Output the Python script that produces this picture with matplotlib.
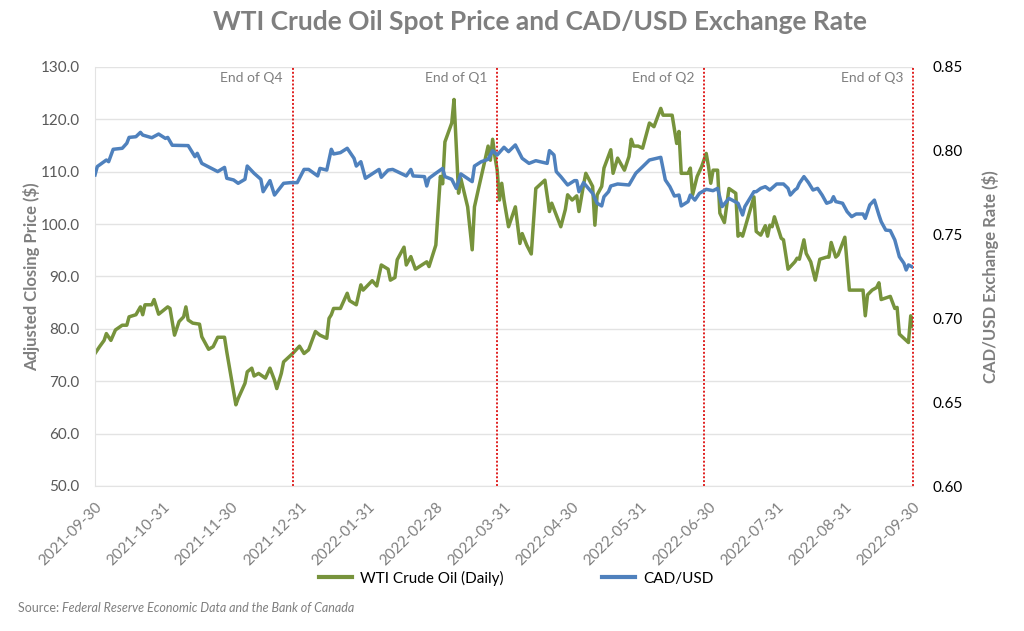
import numpy as np
import pandas as pd
import matplotlib
matplotlib.use('Agg')
import matplotlib.pyplot as plt
import matplotlib.lines as mlines
import matplotlib.dates as mdates

plt.rcParams['font.family'] = ['Lato', 'DejaVu Sans']

# WTI crude oil daily price (USD)
wti_dates = [
    '2021-10-05', '2021-10-07', '2021-10-09', '2021-10-10', '2021-10-12', '2021-10-14', '2021-10-17',
    '2021-10-19', '2021-10-20', '2021-10-23', '2021-10-25', '2021-10-26', '2021-10-27', '2021-10-30',
    '2021-10-31', '2021-11-02', '2021-11-06', '2021-11-07', '2021-11-09', '2021-11-11', '2021-11-13',
    '2021-11-14', '2021-11-15', '2021-11-17', '2021-11-20', '2021-11-21', '2021-11-24', '2021-11-26',
    '2021-11-28', '2021-12-01', '2021-12-02', '2021-12-04', '2021-12-06', '2021-12-07', '2021-12-10',
    '2021-12-11', '2021-12-13', '2021-12-14', '2021-12-16', '2021-12-19', '2021-12-21', '2021-12-23',
    '2021-12-24', '2021-12-26', '2021-12-27', '2021-12-28', '2021-12-31',
    '2022-01-03', '2022-01-05', '2022-01-07', '2022-01-10', '2022-01-12', '2022-01-15', '2022-01-16',
    '2022-01-17', '2022-01-18', '2022-01-21', '2022-01-24', '2022-01-25', '2022-01-28', '2022-01-30',
    '2022-01-31', '2022-02-04', '2022-02-06', '2022-02-08', '2022-02-11', '2022-02-12', '2022-02-14',
    '2022-02-15', '2022-02-18', '2022-02-19', '2022-02-21', '2022-02-23', '2022-02-28', '2022-03-01',
    '2022-03-04', '2022-03-06', '2022-03-07', '2022-03-08', '2022-03-11', '2022-03-12', '2022-03-14',
    '2022-03-15', '2022-03-18', '2022-03-20', '2022-03-21', '2022-03-23', '2022-03-25', '2022-03-27',
    '2022-03-28', '2022-03-29', '2022-03-30', '2022-03-31',
    '2022-04-01', '2022-04-02', '2022-04-03', '2022-04-05', '2022-04-08', '2022-04-10', '2022-04-11',
    '2022-04-13', '2022-04-15', '2022-04-17', '2022-04-21', '2022-04-23', '2022-04-24', '2022-04-28',
    '2022-04-30', '2022-05-01', '2022-05-03', '2022-05-05', '2022-05-06', '2022-05-08', '2022-05-09',
    '2022-05-12', '2022-05-13', '2022-05-14', '2022-05-16', '2022-05-17', '2022-05-20', '2022-05-21',
    '2022-05-23', '2022-05-26', '2022-05-28', '2022-05-29', '2022-05-30', '2022-06-01', '2022-06-03',
    '2022-06-06', '2022-06-08', '2022-06-11', '2022-06-12', '2022-06-16', '2022-06-18', '2022-06-19',
    '2022-06-20', '2022-06-23', '2022-06-24', '2022-06-25', '2022-06-27', '2022-06-29',
    '2022-07-01', '2022-07-02', '2022-07-03', '2022-07-04', '2022-07-06', '2022-07-07', '2022-07-09',
    '2022-07-11', '2022-07-14', '2022-07-15', '2022-07-16', '2022-07-17', '2022-07-22', '2022-07-23',
    '2022-07-25', '2022-07-27', '2022-07-28', '2022-07-29', '2022-07-30', '2022-07-31', '2022-08-03',
    '2022-08-04', '2022-08-06', '2022-08-09', '2022-08-10', '2022-08-11', '2022-08-13', '2022-08-14',
    '2022-08-16', '2022-08-18', '2022-08-20', '2022-08-23', '2022-08-24', '2022-08-25', '2022-08-27',
    '2022-08-28', '2022-08-31', '2022-09-02', '2022-09-03', '2022-09-08', '2022-09-09', '2022-09-10',
    '2022-09-12', '2022-09-14', '2022-09-15', '2022-09-16', '2022-09-20', '2022-09-22', '2022-09-23',
    '2022-09-24', '2022-09-28', '2022-09-29', '2022-09-30',
]
wti_price = [
    75.3, 76.6, 77.8, 79.1, 77.8, 79.8, 80.7,
    80.7, 82.3, 82.7, 84.2, 82.7, 84.6, 84.6,
    85.6, 82.8, 84.2, 83.9, 78.8, 81.4, 82.3,
    84.2, 81.7, 81.1, 80.9, 78.5, 76.1, 76.6,
    78.4, 78.4, 75.6, 70.6, 65.5, 66.7, 69.6,
    71.8, 72.5, 71.0, 71.5, 70.6, 72.5, 70.2,
    68.6, 71.5, 73.7, 74.1, 75.3,
    76.7, 75.3, 76.0, 79.5, 78.8, 78.2, 82.0,
    82.7, 83.9, 83.9, 86.8, 85.4, 84.6, 88.4,
    87.4, 89.2, 88.2, 92.2, 91.4, 89.3, 89.8,
    93.2, 95.6, 92.2, 93.8, 91.4, 92.8, 91.9,
    96.0, 109.1, 107.7, 115.7, 119.3, 123.8, 105.9,
    108.7, 103.3, 95.1, 103.3, 107.2, 111.0, 114.9,
    112.2, 116.2, 112.9, 110.3,
    104.6, 107.8, 104.6, 99.5, 103.3, 96.3, 98.2,
    96.0, 94.3, 106.8, 108.4, 102.4, 104.0, 99.5,
    102.8, 105.6, 104.6, 105.4, 102.4, 107.5, 109.7,
    107.2, 99.8, 105.6, 107.2, 110.7, 114.2, 109.7,
    112.6, 110.3, 112.9, 116.2, 114.9, 114.9, 114.5,
    119.3, 118.6, 122.1, 120.8, 120.8, 115.4, 117.7,
    109.7, 109.7, 110.7, 105.6, 109.1, 111.0,
    113.5, 111.0, 107.8, 110.3, 110.3, 102.1, 100.3,
    106.8, 105.9, 97.7, 98.2, 97.7, 105.2, 98.6,
    97.9, 99.7, 97.7, 99.8, 99.5, 101.4, 97.3,
    97.0, 91.4, 92.8, 93.5, 93.3, 97.0, 94.4,
    92.8, 89.3, 93.3, 93.7, 93.7, 96.5, 93.7,
    94.1, 97.5, 87.4, 87.4, 87.4, 82.5, 86.5,
    87.4, 87.9, 88.8, 85.6, 86.2, 83.9, 84.1,
    79.0, 77.4, 82.5, 80.5,
]

# CAD/USD exchange rate
cad_dates = [
    '2021-10-05', '2021-10-06', '2021-10-10', '2021-10-11', '2021-10-13', '2021-10-17', '2021-10-19',
    '2021-10-20', '2021-10-23', '2021-10-25', '2021-10-26', '2021-10-30', '2021-11-02', '2021-11-05',
    '2021-11-06', '2021-11-08', '2021-11-15', '2021-11-18', '2021-11-19', '2021-11-21', '2021-11-28',
    '2021-12-01', '2021-12-02', '2021-12-05', '2021-12-07', '2021-12-10', '2021-12-11', '2021-12-14',
    '2021-12-17', '2021-12-18', '2021-12-21', '2021-12-23', '2021-12-27', '2021-12-30',
    '2022-01-02', '2022-01-05', '2022-01-07', '2022-01-11', '2022-01-12', '2022-01-15', '2022-01-17',
    '2022-01-18', '2022-01-21', '2022-01-24', '2022-01-27', '2022-01-28', '2022-01-30', '2022-02-01',
    '2022-02-07', '2022-02-08', '2022-02-11', '2022-02-13', '2022-02-19', '2022-02-21', '2022-02-22',
    '2022-02-27', '2022-02-28', '2022-03-01', '2022-03-04', '2022-03-07', '2022-03-08', '2022-03-11',
    '2022-03-13', '2022-03-15', '2022-03-20', '2022-03-21', '2022-03-24', '2022-03-27', '2022-03-29',
    '2022-03-31',
    '2022-04-03', '2022-04-05', '2022-04-08', '2022-04-11', '2022-04-14', '2022-04-17', '2022-04-22',
    '2022-04-23', '2022-04-25', '2022-04-26', '2022-04-28', '2022-05-01', '2022-05-04', '2022-05-05',
    '2022-05-06', '2022-05-08', '2022-05-12', '2022-05-14', '2022-05-16', '2022-05-17', '2022-05-19',
    '2022-05-20', '2022-05-23', '2022-05-28', '2022-05-31', '2022-06-03', '2022-06-06', '2022-06-11',
    '2022-06-13', '2022-06-15', '2022-06-17', '2022-06-19', '2022-06-20', '2022-06-23', '2022-06-24',
    '2022-06-26', '2022-06-28',
    '2022-07-01', '2022-07-04', '2022-07-06', '2022-07-08', '2022-07-11', '2022-07-15', '2022-07-17',
    '2022-07-18', '2022-07-22', '2022-07-23', '2022-07-25', '2022-07-27', '2022-07-29', '2022-08-01',
    '2022-08-04', '2022-08-06', '2022-08-07', '2022-08-09', '2022-08-10', '2022-08-11', '2022-08-13',
    '2022-08-15', '2022-08-17', '2022-08-19', '2022-08-21', '2022-08-23', '2022-08-25', '2022-08-26',
    '2022-08-27', '2022-08-30', '2022-09-01', '2022-09-03', '2022-09-05', '2022-09-08', '2022-09-09',
    '2022-09-11', '2022-09-13', '2022-09-15', '2022-09-16', '2022-09-18', '2022-09-20', '2022-09-22',
    '2022-09-24', '2022-09-26', '2022-09-27', '2022-09-28', '2022-09-30',
]
cad_usd = [
    0.7856, 0.7906, 0.7945, 0.7935, 0.8009, 0.8015, 0.8045,
    0.8080, 0.8084, 0.8110, 0.8094, 0.8078, 0.8100, 0.8074,
    0.8080, 0.8033, 0.8031, 0.7965, 0.7985, 0.7925, 0.7876,
    0.7901, 0.7836, 0.7826, 0.7806, 0.7830, 0.7909, 0.7866,
    0.7830, 0.7756, 0.7822, 0.7736, 0.7806, 0.7810,
    0.7810, 0.7889, 0.7889, 0.7850, 0.7895, 0.7885, 0.8009,
    0.7981, 0.7989, 0.8015, 0.7955, 0.7909, 0.7935, 0.7836,
    0.7889, 0.7842, 0.7885, 0.7889, 0.7850, 0.7889, 0.7850,
    0.7846, 0.7790, 0.7836, 0.7866, 0.7895, 0.7846, 0.7830,
    0.7776, 0.7862, 0.7816, 0.7909, 0.7935, 0.7949, 0.8001,
    0.7975,
    0.8021, 0.7995, 0.8035, 0.7955, 0.7925, 0.7941, 0.7925,
    0.8001, 0.7975, 0.7876, 0.7846, 0.7796, 0.7822, 0.7822,
    0.7756, 0.7810, 0.7746, 0.7687, 0.7671, 0.7726, 0.7756,
    0.7790, 0.7802, 0.7796, 0.7866, 0.7905, 0.7945, 0.7961,
    0.7826, 0.7786, 0.7730, 0.7736, 0.7671, 0.7697, 0.7736,
    0.7706, 0.7746,
    0.7770, 0.7762, 0.7776, 0.7667, 0.7716, 0.7687, 0.7617,
    0.7667, 0.7756, 0.7756, 0.7776, 0.7786, 0.7766, 0.7802,
    0.7802, 0.7776, 0.7736, 0.7766, 0.7776, 0.7806, 0.7846,
    0.7810, 0.7766, 0.7776, 0.7736, 0.7687, 0.7697, 0.7726,
    0.7697, 0.7687, 0.7637, 0.7607, 0.7623, 0.7623, 0.7597,
    0.7677, 0.7706, 0.7617, 0.7577, 0.7527, 0.7524, 0.7468,
    0.7368, 0.7329, 0.7289, 0.7319, 0.7305,
]

tick_labels = ['2021-09-30', '2021-10-31', '2021-11-30', '2021-12-31', '2022-01-31', '2022-02-28',
               '2022-03-31', '2022-04-30', '2022-05-31', '2022-06-30', '2022-07-31', '2022-08-31',
               '2022-09-30']
quarter_ends = ['2021-12-31', '2022-03-31', '2022-06-30', '2022-09-30']
quarter_labels = ['End of Q4', 'End of Q1', 'End of Q2', 'End of Q3']

green = '#77933c'
blue = '#4f81bd'
grey = '#7f7f7f'

fig = plt.figure(figsize=(10.24, 6.31), dpi=100)
ax = fig.add_axes([95 / 1024, 1 - 486 / 631, 818 / 1024, 419 / 631])
ax2 = ax.twinx()

wti_x = pd.to_datetime(wti_dates)
cad_x = pd.to_datetime(cad_dates)
ax.plot(wti_x, wti_price, color=green, lw=2.5, solid_joinstyle='round')
ax2.plot(cad_x, cad_usd, color=blue, lw=2.5, solid_joinstyle='round')

x0, x1 = min(wti_x[0], cad_x[0]), max(wti_x[-1], cad_x[-1])
ax.set_xlim(x0, x1)
ax.set_ylim(50, 130)
ax2.set_ylim(0.60, 0.85)

# gridlines and frame
ax.set_yticks(np.arange(50, 131, 10))
ax.set_yticklabels([f'{v:.1f}' for v in np.arange(50, 131, 10)])
ax.yaxis.grid(True, color='#e3e3e3', lw=1)
ax.set_axisbelow(True)
for s in ['top', 'right']:
    ax.spines[s].set_visible(False)
for s in ['left', 'bottom']:
    ax.spines[s].set_color('#e3e3e3')
for s in ax2.spines.values():
    s.set_visible(False)

ax2.set_yticks(np.arange(0.60, 0.851, 0.05))
ax2.set_yticklabels([f'{v:.2f}' for v in np.arange(0.60, 0.851, 0.05)])

ax.tick_params(axis='y', length=0, labelsize=11, labelcolor='#595959', pad=11)
ax2.tick_params(axis='y', length=0, labelsize=11, labelcolor='black', pad=14)

# category-style axis: labels evenly spaced across the plot
tick_pos = np.linspace(mdates.date2num(x0), mdates.date2num(x1), len(tick_labels))
ax.set_xticks(tick_pos)
ax.set_xticklabels(tick_labels, rotation=45, ha='right', rotation_mode='anchor')
ax.tick_params(axis='x', length=0, labelsize=11, labelcolor='#7f7f7f', pad=10)

ax.set_ylabel('Adjusted Closing Price ($)', fontsize=12, fontweight='bold', color=grey)
ax.yaxis.set_label_coords(-0.067, 0.5)
ax2.set_ylabel('CAD/USD Exchange Rate ($)', fontsize=12, fontweight='bold', color=grey, labelpad=14)

# quarter-end markers
for d, lab in zip(quarter_ends, quarter_labels):
    ax.axvline(pd.Timestamp(d), color='#e02020', lw=1.4, ls=(0, (1, 1)), clip_on=False)
    ax.annotate(lab, xy=(pd.Timestamp(d), 127.9), xytext=(-7, 0), textcoords='offset points',
                ha='right', va='center', fontsize=10, color=grey)

fig.text(540 / 1024, 1 - 22 / 631, 'WTI Crude Oil Spot Price and CAD/USD Exchange Rate',
         ha='center', va='center', fontsize=19, fontweight='bold', color=grey)

handles = [mlines.Line2D([], [], color=green, lw=3), mlines.Line2D([], [], color=blue, lw=3)]
fig.legend(handles, ['WTI Crude Oil (Daily)', 'CAD/USD'], loc='center',
           bbox_to_anchor=(516 / 1024, 1 - 578 / 631), ncol=2, frameon=False,
           fontsize=11, handlelength=2.2, handletextpad=0.5, columnspacing=6.4)

src = fig.text(18 / 1024, 1 - 608 / 631, 'Source: ', fontsize=9, color=grey, va='center')
fig.canvas.draw()
bb = src.get_window_extent()
fig.text(bb.x1 / fig.bbox.width, 1 - 608 / 631, 'Federal Reserve Economic Data and the Bank of Canada',
         fontsize=9, color=grey, style='italic', va='center')

fig.savefig('out.png', dpi=100)
